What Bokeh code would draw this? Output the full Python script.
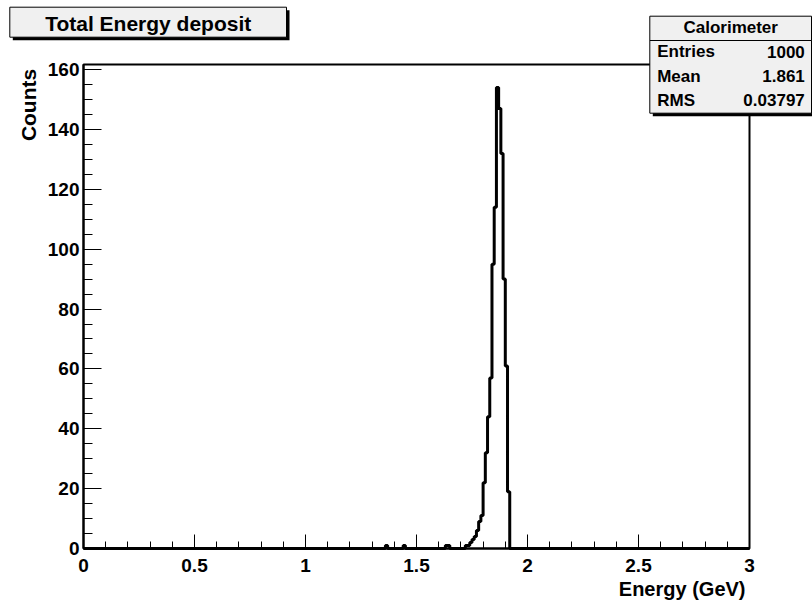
import numpy as np
from bokeh.plotting import figure
from bokeh.models import BoxAnnotation, Label, FixedTicker, CustomJSTickFormatter, Range1d
from bokeh.embed import file_html
from bokeh.resources import INLINE

# ---------------- data ----------------
n_bins = 300
x_min, x_max = 0.0, 3.0
bin_low = [1.36, 1.44, 1.63, 1.64, 1.72, 1.73, 1.74, 1.75, 1.76, 1.77, 1.78, 1.79,
           1.80, 1.81, 1.82, 1.83, 1.84, 1.85, 1.86, 1.87, 1.88, 1.89, 1.90, 1.91]
counts = [1, 1, 1, 1, 1, 1, 2, 3, 4, 6, 9, 11,
          22, 32, 44, 57, 95, 114, 154, 147, 132, 90, 61, 19]

x_ticks = [0, 0.5, 1, 1.5, 2, 2.5, 3]
x_tick_labels = ["0", "0.5", "1", "1.5", "2", "2.5", "3"]
y_ticks = [0, 20, 40, 60, 80, 100, 120, 140, 160]
y_tick_labels = ["0", "20", "40", "60", "80", "100", "120", "140", "160"]

title_text = "Total Energy deposit"
x_title = "Energy (GeV)"
y_title = "Counts"
stats_name = "Calorimeter"
stats_labels = ["Entries", "Mean", "RMS"]
stats_values = ["1000", "1.861", "0.03797"]

# ---------------- histogram arrays ----------------
bw = (x_max - x_min) / n_bins
edges = np.linspace(x_min, x_max, n_bins + 1)
hist = np.zeros(n_bins)
idx = np.rint((np.array(bin_low) - x_min) / bw).astype(int)
hist[idx] = counts
y_top = max(counts) * 1.05

# ---------------- layout (canvas pixels) ----------------
W, H = 812, 603
DL, DR, DT, DB = 83, 749, 64, 548   # data area on the canvas

def dx(px):
    return x_min + (px - DL) * (x_max - x_min) / (DR - DL)

def dy(py):
    return (DB - py) * y_top / (DB - DT)

FONT = "Liberation Sans"

p = figure(width=W, height=H, output_backend="svg", toolbar_location=None,
           x_range=Range1d(dx(0), dx(W)), y_range=Range1d(dy(H), dy(0)),
           min_border=0, min_border_left=0, min_border_right=0,
           min_border_top=0, min_border_bottom=0)
p.background_fill_color = "white"
p.border_fill_color = "white"
p.outline_line_color = None
p.xgrid.visible = False
p.ygrid.visible = False

p.xaxis.ticker = FixedTicker(ticks=x_ticks,
                             minor_ticks=list(np.round(np.arange(0, 3.0001, 0.1), 3)))
p.yaxis.ticker = FixedTicker(ticks=y_ticks, minor_ticks=list(range(0, 161, 5)))
fmt_code = """
const i = tv.findIndex(t => Math.abs(t - tick) < 1e-9);
return i >= 0 ? tl[i] : "";
"""
p.xaxis.formatter = CustomJSTickFormatter(args=dict(tv=x_ticks, tl=x_tick_labels), code=fmt_code)
p.yaxis.formatter = CustomJSTickFormatter(args=dict(tv=y_ticks, tl=y_tick_labels), code=fmt_code)

p.xaxis.fixed_location = 0
p.yaxis.fixed_location = 0
p.xaxis.bounds = (x_min, x_max)
p.yaxis.bounds = (0, y_top)

for ax, maj, mnr, so in ((p.xaxis[0], 14, 7, 10), (p.yaxis[0], 18, 9, 4)):
    ax.axis_line_color = "black"
    ax.axis_line_width = 2
    ax.major_tick_in = maj
    ax.major_tick_out = 0
    ax.minor_tick_in = mnr
    ax.minor_tick_out = 0
    ax.major_tick_line_color = "black"
    ax.minor_tick_line_color = "black"
    ax.major_tick_line_width = 1
    ax.minor_tick_line_width = 1
    ax.major_label_text_font = FONT
    ax.major_label_text_font_style = "bold"
    ax.major_label_text_font_size = "19px"
    ax.major_label_text_color = "black"
    ax.major_label_standoff = so

# frame around the data area
p.add_layout(BoxAnnotation(left=x_min, right=x_max, bottom=0, top=y_top,
                           fill_alpha=0, line_color="black", line_alpha=1,
                           line_width=2, level="underlay"))

p.step(x=edges, y=np.append(hist, 0), mode="after", line_color="black", line_width=3)

def box(l, t, r, b, fill, line=True):
    return BoxAnnotation(left=dx(l), right=dx(r), top=dy(t), bottom=dy(b),
                         fill_color=fill, fill_alpha=1,
                         line_color="black" if line else None, line_alpha=1,
                         line_width=1, level="overlay")

def text(x, y, s, align, size, angle=0.0, extra=0.0):
    # y is the wanted baseline; compensate the renderer's baseline offset
    sz = float(size.replace("px", ""))
    off = 0.33 * sz + extra
    if angle:
        x = x - off
    else:
        y = y - off
    return Label(x=dx(x), y=dy(y), text=s, text_align=align, angle=angle,
                 text_baseline="alphabetic", text_font=FONT, text_font_style="bold",
                 text_font_size=size, text_color="black", level="overlay")

# ---------------- title box ----------------
p.add_layout(box(12.3, 9.7, 289, 39.7, "black", line=False))
p.add_layout(box(9.3, 6.7, 286, 36.7, "#f0f0f0"))
p.add_layout(text(147.7, 30, title_text, "center", "21px"))

# ---------------- stats box ----------------
p.add_layout(box(652.3, 18.7, 814, 115.7, "black", line=False))
p.add_layout(box(649.3, 15.7, 811, 40, "#f0f0f0"))
p.add_layout(box(649.3, 40, 811, 112.7, "#f0f0f0"))
p.add_layout(text(730.2, 33.3, stats_name, "center", "17px", extra=0.5))
row_base = [58.3, 82.7, 106.7]
for lab, val, yb in zip(stats_labels, stats_values, row_base):
    p.add_layout(text(656.7, yb, lab, "left", "17px", extra=1.5))
    p.add_layout(text(804.3, yb, val, "right", "17px", extra=1.5))

# ---------------- axis titles ----------------
p.add_layout(text(745, 595, x_title, "right", "20px"))
p.add_layout(text(36.7, 68.3, y_title, "right", "21px", angle=np.pi / 2, extra=2))

open("out.html", "w").write(file_html(p, INLINE))
